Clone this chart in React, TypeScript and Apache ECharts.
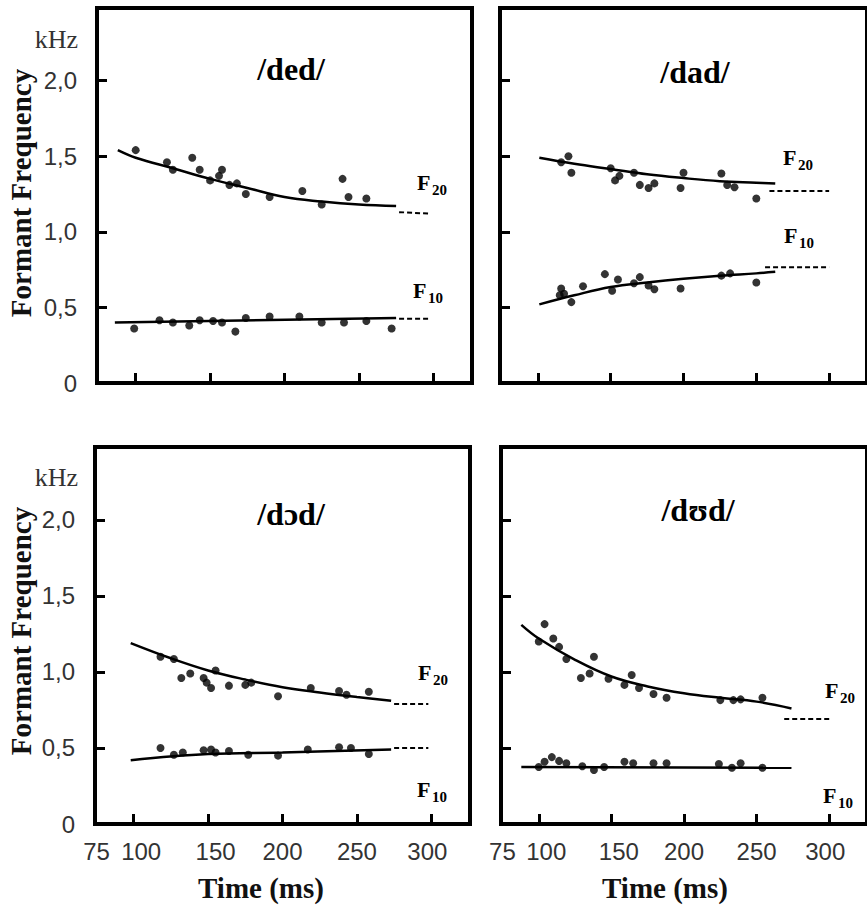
import React, { useEffect, useRef } from 'react';
import * as echarts from 'echarts';

// ---------- axis settings ----------
const X_MIN = 74;
const X_MAX = 326;
const Y_MAX = 2.48;
const xLabelValues = [75, 100, 150, 200, 250, 300];
const xTickValues = [100, 150, 200, 250, 300];
const yLabelValues = [0, 0.5, 1, 1.5, 2];
const yTickValues = [0.5, 1, 1.5, 2];
const unitLabel = 'kHz';

const panelTitles = ['/ded/', '/dad/', '/dɔd/', '/dʊd/'];
const yAxisTitle = 'Formant Frequency';
const xAxisTitle = 'Time (ms)';

// ---------- /ded/ ----------
const dedF2Points = [
  [100, 1.54], [121, 1.46], [125, 1.41], [138, 1.49], [143, 1.41], [150, 1.34], [156, 1.37],
  [158, 1.41], [163, 1.31], [168, 1.32], [174, 1.25], [190, 1.23], [212, 1.27], [225, 1.18],
  [239, 1.35], [243, 1.23], [255, 1.22],
];
const dedF2Curve = [[88, 1.54], [100, 1.49], [125, 1.42], [150, 1.35], [175, 1.29], [200, 1.23], [225, 1.2], [250, 1.18], [275, 1.17]];
const dedF2Target = [[277, 1.13], [298, 1.12]];
const dedF1Points = [
  [99, 0.36], [116, 0.415], [125, 0.4], [136, 0.38], [143, 0.415], [152, 0.41], [158, 0.4],
  [167, 0.34], [174, 0.43], [190, 0.44], [210, 0.44], [225, 0.4], [240, 0.4], [255, 0.41], [272, 0.36],
];
const dedF1Curve = [[86, 0.4], [275, 0.43]];
const dedF1Target = [[277, 0.425], [298, 0.425]];

// ---------- /dad/ ----------
const dadF2Points = [
  [116, 1.46], [121, 1.5], [123, 1.39], [150, 1.42], [153, 1.34], [156, 1.37], [166, 1.39],
  [170, 1.31], [176, 1.29], [180, 1.32], [200, 1.39], [198, 1.29], [226, 1.385], [230, 1.31],
  [235, 1.295], [250, 1.22],
];
const dadF2Curve = [[101, 1.49], [125, 1.45], [150, 1.415], [175, 1.38], [200, 1.355], [225, 1.335], [250, 1.325], [263, 1.32]];
const dadF2Target = [[259, 1.27], [300, 1.27]];
const dadF1Points = [
  [116, 0.625], [118, 0.59], [115, 0.58], [123, 0.535], [131, 0.64], [146, 0.72], [151, 0.61],
  [155, 0.685], [166, 0.66], [170, 0.7], [176, 0.645], [180, 0.62], [198, 0.625], [226, 0.71],
  [232, 0.725], [250, 0.665],
];
const dadF1Curve = [[101, 0.52], [125, 0.58], [150, 0.635], [175, 0.665], [200, 0.69], [225, 0.71], [250, 0.725], [263, 0.735]];
const dadF1Target = [[256, 0.765], [300, 0.765]];

// ---------- /dɔd/ ----------
const dodF2Points = [
  [118, 1.1], [127, 1.085], [132, 0.96], [138, 0.99], [147, 0.96], [149, 0.93], [152, 0.895],
  [155, 1.01], [164, 0.91], [175, 0.915], [179, 0.93], [197, 0.84], [219, 0.895], [238, 0.875],
  [243, 0.85], [258, 0.87],
];
const dodF2Curve = [[98, 1.19], [125, 1.09], [150, 1.01], [175, 0.95], [200, 0.9], [225, 0.865], [250, 0.835], [273, 0.81]];
const dodF2Target = [[275, 0.79], [298, 0.79]];
const dodF1Points = [
  [118, 0.5], [127, 0.455], [133, 0.47], [147, 0.485], [152, 0.49], [155, 0.47], [164, 0.48],
  [177, 0.455], [197, 0.45], [217, 0.49], [238, 0.505], [246, 0.5], [258, 0.46],
];
const dodF1Curve = [[98, 0.42], [150, 0.46], [200, 0.47], [273, 0.49]];
const dodF1Target = [[275, 0.5], [298, 0.5]];

// ---------- /dʊd/ ----------
const dudF2Points = [
  [104, 1.315], [100, 1.2], [110, 1.22], [114, 1.165], [119, 1.085], [129, 0.96], [138, 1.1],
  [135, 0.99], [148, 0.955], [159, 0.915], [164, 0.98], [169, 0.895], [179, 0.855], [188, 0.83],
  [225, 0.815], [234, 0.815], [239, 0.82], [254, 0.83],
];
const dudF2Curve = [[88, 1.31], [100, 1.22], [125, 1.08], [150, 0.97], [175, 0.905], [200, 0.86], [225, 0.83], [250, 0.805], [274, 0.76]];
const dudF2Target = [[269, 0.69], [301, 0.69]];
const dudF1Points = [
  [100, 0.375], [104, 0.41], [109, 0.44], [114, 0.415], [119, 0.4], [130, 0.38], [138, 0.355],
  [145, 0.375], [159, 0.41], [165, 0.4], [179, 0.4], [188, 0.4], [224, 0.395], [233, 0.37],
  [239, 0.4], [254, 0.37],
];
const dudF1Curve = [[88, 0.375], [274, 0.37]];
const dudF1Target: number[][] = [];

const panels = [
  { f2Points: dedF2Points, f2Curve: dedF2Curve, f2Target: dedF2Target, f1Points: dedF1Points, f1Curve: dedF1Curve, f1Target: dedF1Target },
  { f2Points: dadF2Points, f2Curve: dadF2Curve, f2Target: dadF2Target, f1Points: dadF1Points, f1Curve: dadF1Curve, f1Target: dadF1Target },
  { f2Points: dodF2Points, f2Curve: dodF2Curve, f2Target: dodF2Target, f1Points: dodF1Points, f1Curve: dodF1Curve, f1Target: dodF1Target },
  { f2Points: dudF2Points, f2Curve: dudF2Curve, f2Target: dudF2Target, f1Points: dudF1Points, f1Curve: dudF1Curve, f1Target: dudF1Target },
];

// ---------- layout ----------
const grids = [
  { left: 97, top: 8, width: 375, height: 375 },
  { left: 500, top: 8, width: 375, height: 375 },
  { left: 95, top: 447, width: 375, height: 377 },
  { left: 501, top: 447, width: 375, height: 377 },
];
const titlePos = [[291, 69], [695, 72], [291, 514], [698, 510]];
const fLabelPos = [
  { f2: [417, 182.5], f1: [413, 290.5] },
  { f2: [783, 157], f1: [784, 235] },
  { f2: [418, 672], f1: [417, 789] },
  { f2: [825, 690], f1: [823, 795] },
];
const unitPos = [[78, 39], [78, 477]];
// small horizontal nudges of some printed tick labels (px)
const xLabelNudge: Record<number, number> = { 100: 8, 150: 7, 300: -4 };

const SERIF = '"Liberation Serif", "DejaVu Serif", "Times New Roman", serif';
const SANS = '"Liberation Sans", Arial, sans-serif';

function fLabel(pos: number[], sub: string) {
  return {
    type: 'group',
    x: pos[0],
    y: pos[1],
    children: [
      { type: 'text', x: 0, y: 0, style: { text: 'F', fontFamily: SERIF, fontWeight: 'bold', fontSize: 22, fill: '#000', textAlign: 'left', textVerticalAlign: 'middle' } },
      { type: 'text', x: 15, y: 7.5, style: { text: sub, fontFamily: SERIF, fontWeight: 'bold', fontSize: 15, fill: '#000', textAlign: 'left', textVerticalAlign: 'middle' } },
    ],
  };
}

export default function App() {
  const ref = useRef<HTMLDivElement>(null);
  useEffect(() => {
    if (!ref.current) return;
    const chart = echarts.init(ref.current, null, { renderer: 'svg' });

    const xAxis = grids.map((_, i) => ({
      gridIndex: i,
      type: 'value',
      min: X_MIN,
      max: X_MAX,
      axisLine: { show: false },
      splitLine: { show: false },
      axisTick: { show: true, inside: true, length: 10, customValues: xTickValues, lineStyle: { color: '#000', width: 3 } },
      axisLabel: {
        show: i >= 2,
        customValues: xLabelValues,
        margin: 15,
        fontSize: 24,
        fontFamily: SANS,
        color: '#333',
        formatter: (v: number) => {
          const d = xLabelNudge[v] || 0;
          if (d > 0) return '{r|' + v + '}';
          if (d < 0) return '{l|' + v + '}';
          return String(v);
        },
        rich: {
          r: { fontSize: 24, fontFamily: SANS, color: '#333', padding: [0, 0, 0, 15] },
          l: { fontSize: 24, fontFamily: SANS, color: '#333', padding: [0, 8, 0, 0] },
        },
      },
    }));

    const yAxis = grids.map((_, i) => ({
      gridIndex: i,
      type: 'value',
      min: 0,
      max: Y_MAX,
      axisLine: { show: false },
      splitLine: { show: false },
      axisTick: { show: true, inside: true, length: 10, customValues: yTickValues, lineStyle: { color: '#000', width: 3 } },
      axisLabel: {
        show: i % 2 === 0,
        customValues: yLabelValues,
        margin: 20,
        fontSize: 24,
        fontFamily: SANS,
        color: '#333',
        formatter: (v: number) => (v === 0 ? '0' : v.toFixed(1).replace('.', ',')),
      },
    }));

    const series: any[] = [];
    panels.forEach((p, i) => {
      const base = { xAxisIndex: i, yAxisIndex: i, silent: true };
      series.push({ ...base, type: 'scatter', data: p.f2Points, symbolSize: 8, itemStyle: { color: '#000' } });
      series.push({ ...base, type: 'scatter', data: p.f1Points, symbolSize: 8, itemStyle: { color: '#000' } });
      series.push({ ...base, type: 'line', data: p.f2Curve, smooth: 0.4, symbol: 'none', lineStyle: { color: '#000', width: 2.5 } });
      series.push({ ...base, type: 'line', data: p.f1Curve, smooth: 0.4, symbol: 'none', lineStyle: { color: '#000', width: 2.5 } });
      if (p.f2Target.length) series.push({ ...base, type: 'line', data: p.f2Target, symbol: 'none', lineStyle: { color: '#000', width: 2, type: [5, 3] } });
      if (p.f1Target.length) series.push({ ...base, type: 'line', data: p.f1Target, symbol: 'none', lineStyle: { color: '#000', width: 2, type: [5, 3] } });
    });

    const graphic: any[] = [];
    panelTitles.forEach((t, i) => {
      graphic.push({
        type: 'text', x: titlePos[i][0], y: titlePos[i][1],
        style: { text: t, fontFamily: SERIF, fontWeight: 'bold', fontSize: 32, fill: '#000', textAlign: 'center', textVerticalAlign: 'middle' },
      });
      graphic.push(fLabel(fLabelPos[i].f2, '20'));
      graphic.push(fLabel(fLabelPos[i].f1, '10'));
    });
    unitPos.forEach((p) => {
      graphic.push({
        type: 'text', x: p[0], y: p[1],
        style: { text: unitLabel, fontFamily: SERIF, fontSize: 26, fill: '#333', textAlign: 'right', textVerticalAlign: 'middle' },
      });
    });
    [[21, 193], [21, 631]].forEach((p) => {
      graphic.push({
        type: 'text', x: p[0], y: p[1], rotation: Math.PI / 2,
        style: { text: yAxisTitle, fontFamily: SERIF, fontWeight: 'bold', fontSize: 29, fill: '#111', textAlign: 'center', textVerticalAlign: 'middle' },
      });
    });
    [[261, 888], [665, 888]].forEach((p) => {
      graphic.push({
        type: 'text', x: p[0], y: p[1],
        style: { text: xAxisTitle, fontFamily: SERIF, fontWeight: 'bold', fontSize: 29, fill: '#111', textAlign: 'center', textVerticalAlign: 'middle' },
      });
    });

    chart.setOption({
      animation: false,
      backgroundColor: '#fff',
      grid: grids.map((g) => ({ ...g, show: true, borderColor: '#000', borderWidth: 4, backgroundColor: 'transparent' })),
      xAxis,
      yAxis,
      series,
      graphic,
    });
    return () => chart.dispose();
  }, []);

  return <div ref={ref} style={{ position: 'absolute', left: 0, top: 0, width: 867, height: 905 }} />;
}
